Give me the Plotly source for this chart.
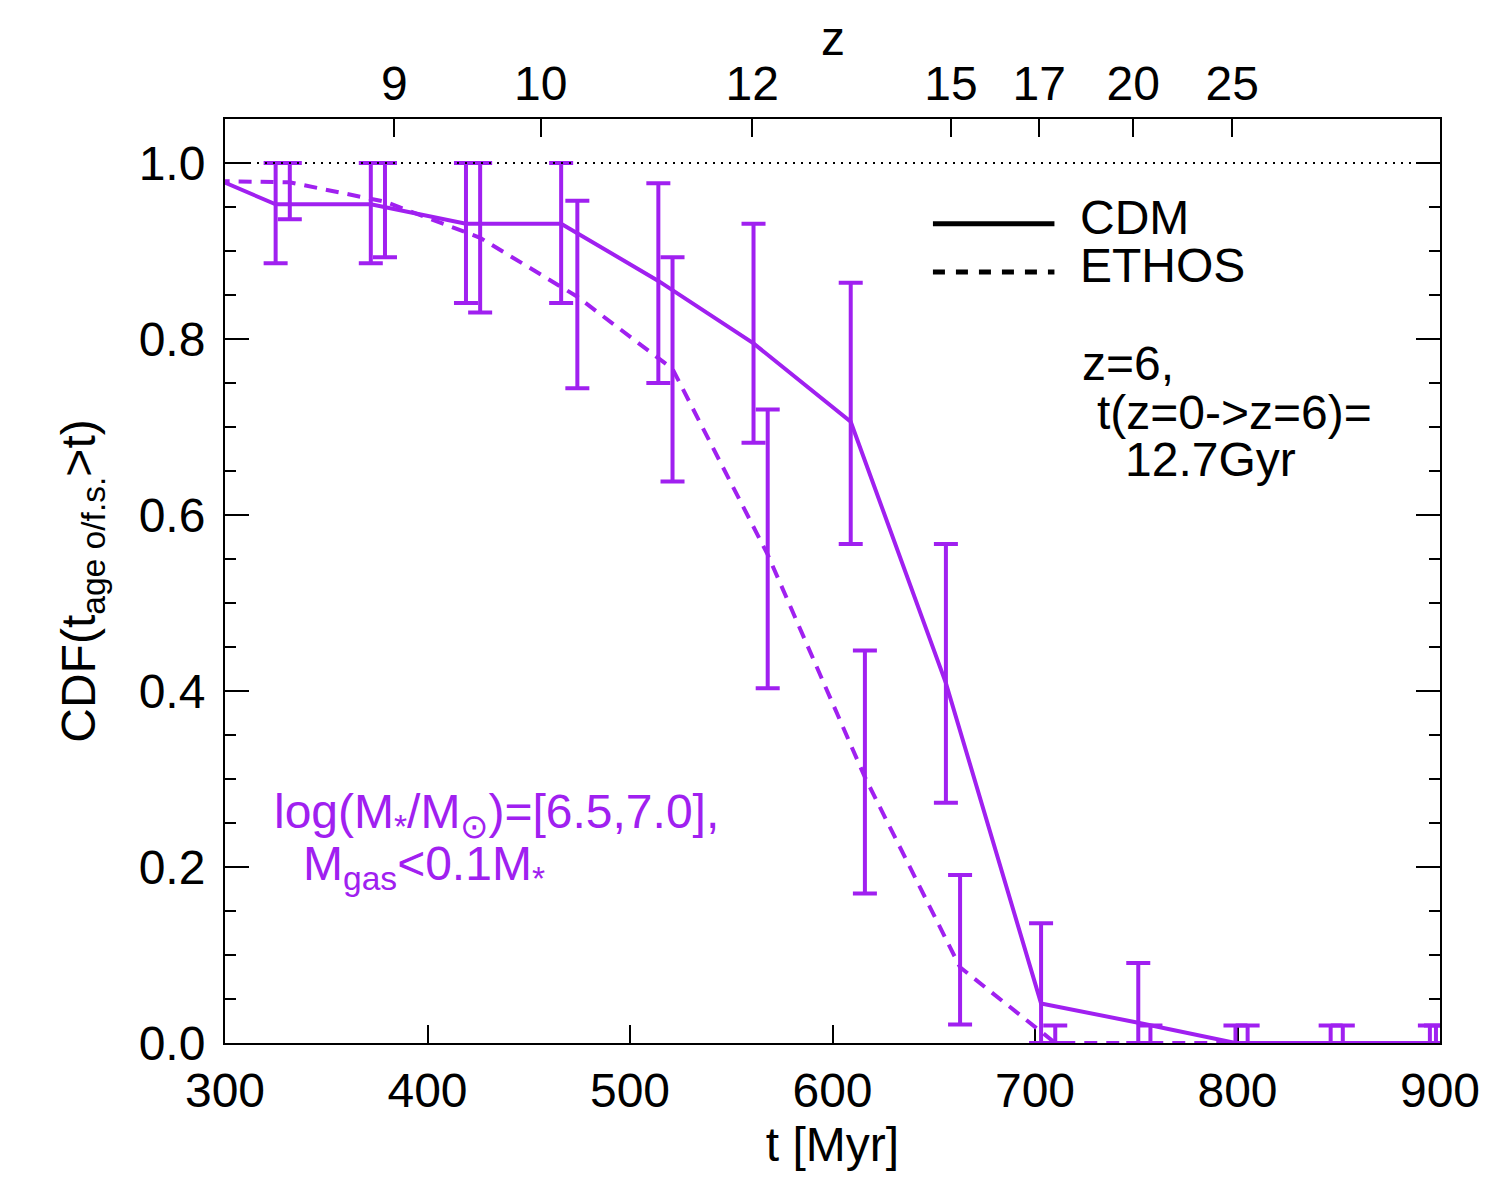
import plotly.graph_objects as go

PURPLE = "#A020F0"
FONT = "Liberation Sans, Arial, Helvetica, sans-serif"

# ---- data ----
# first entry of each series is the bin just left of the plotted range (clipped)
cdm_t = [277.5, 325, 372, 419, 466, 514, 561, 609, 656, 703, 751, 799, 846, 895]
cdm_val = [1.0, 0.953, 0.953, 0.931, 0.931, 0.866, 0.795, 0.706, 0.409, 0.045, 0.023, 0.0, 0.0, 0.0]
cdm_lo = [1.0, 0.886, 0.886, 0.841, 0.841, 0.750, 0.682, 0.567, 0.273, 0.0, 0.0, 0.0, 0.0, 0.0]
cdm_hi = [1.0, 1.0, 1.0, 1.0, 1.0, 0.977, 0.931, 0.864, 0.567, 0.136, 0.091, 0.020, 0.020, 0.020]

ethos_t = [285, 332, 379, 426, 474, 521, 568, 616, 663, 710, 757, 805, 852, 898]
ethos_val = [0.980, 0.978, 0.956, 0.915, 0.848, 0.766, 0.555, 0.302, 0.086, 0.0, 0.0, 0.0, 0.0, 0.0]
ethos_lo = [0.980, 0.936, 0.893, 0.830, 0.744, 0.638, 0.403, 0.170, 0.021, 0.0, 0.0, 0.0, 0.0, 0.0]
ethos_hi = [0.980, 1.0, 1.0, 1.0, 0.957, 0.893, 0.720, 0.446, 0.191, 0.020, 0.020, 0.020, 0.020, 0.020]

# top axis: redshift ticks at time positions
z_tick_t = [383.6, 455.9, 560.4, 658.5, 702.1, 748.5, 797.4]
z_tick_labels = ["9", "10", "12", "15", "17", "20", "25"]

x_ticks = [300, 400, 500, 600, 700, 800, 900]


def err_plus(v, h):
    return [hh - vv for vv, hh in zip(v, h)]


def err_minus(v, l):
    return [vv - ll for vv, ll in zip(v, l)]


fig = go.Figure()

# reference line at CDF = 1
fig.add_trace(go.Scatter(
    x=[x_ticks[0], x_ticks[-1]], y=[1.0, 1.0], xaxis="x2", yaxis="y",
    mode="lines", line=dict(color="black", width=2, dash="2px,6px"),
    hoverinfo="skip", showlegend=False))

fig.add_trace(go.Scatter(
    x=cdm_t, y=cdm_val, mode="lines", name="CDM",
    line=dict(color=PURPLE, width=4),
    error_y=dict(type="data", symmetric=False,
                 array=err_plus(cdm_val, cdm_hi),
                 arrayminus=err_minus(cdm_val, cdm_lo),
                 color=PURPLE, thickness=4, width=12),
    showlegend=False))

fig.add_trace(go.Scatter(
    x=ethos_t, y=ethos_val, mode="lines", name="ETHOS",
    line=dict(color=PURPLE, width=4, dash="13px,9px"),
    error_y=dict(type="data", symmetric=False,
                 array=err_plus(ethos_val, ethos_hi),
                 arrayminus=err_minus(ethos_val, ethos_lo),
                 color=PURPLE, thickness=4, width=12),
    showlegend=False))

# legend lines
fig.add_shape(type="line", xref="x", yref="y", x0=649.6, x1=709.6, y0=0.931, y1=0.931,
              line=dict(color="black", width=5))
fig.add_shape(type="line", xref="x", yref="y", x0=649.6, x1=709.6, y0=0.876, y1=0.876,
              line=dict(color="black", width=5, dash="12px,11px"))

annots = [
    dict(text="CDM", x=721.0, y=0.938, color="black"),
    dict(text="ETHOS", x=721.0, y=0.883, color="black"),
    dict(text="z=6,", x=722.0, y=0.7725, color="black"),
    dict(text="t(z=0-&gt;z=6)=", x=729.6, y=0.717, color="black"),
    dict(text="12.7Gyr", x=743.4, y=0.663, color="black"),
    dict(text="log(M<sub>*</sub>/M<sub>⊙</sub>)=[6.5,7.0],", x=323.0, y=0.259, color=PURPLE),
    dict(text="M<sub>gas</sub>&lt;0.1M<sub>*</sub>", x=337.5, y=0.1998, color=PURPLE),
]
for a in annots:
    fig.add_annotation(text=a["text"], x=a["x"], y=a["y"], xref="x", yref="y",
                       xanchor="left", yanchor="middle", showarrow=False,
                       font=dict(family=FONT, size=48, color=a["color"]))

# top axis title "z"
fig.add_annotation(text="z", x=0.5, y=1.0, xref="paper", yref="paper",
                   xanchor="center", yanchor="bottom", yshift=52, showarrow=False,
                   font=dict(family=FONT, size=48, color="black"))

axis_common = dict(showgrid=False, zeroline=False, linecolor="black", linewidth=2,
                   tickcolor="black", tickwidth=2, ticks="inside",
                   tickfont=dict(family=FONT, size=48, color="black"))

fig.update_layout(
    width=1500, height=1200,
    margin=dict(l=225, r=60, t=119, b=157),
    paper_bgcolor="white", plot_bgcolor="white",
    font=dict(family=FONT, size=48, color="black"),
    showlegend=False, hovermode=False,
    xaxis=dict(range=[300, 900], tickvals=x_ticks, ticklen=18, showline=True,
               mirror=True, layer="below traces", ticklabelstandoff=4,
               title=dict(text="t [Myr]", font=dict(family=FONT, size=48), standoff=12),
               **axis_common),
    xaxis2=dict(range=[300, 900], overlaying="x", side="top", anchor="y",
                tickvals=z_tick_t, ticktext=z_tick_labels, ticklen=18, showline=False,
                ticklabelstandoff=8,
                **axis_common),
    yaxis=dict(range=[0, 1.05], tick0=0, dtick=0.2, tickformat=".1f", ticklen=24,
               showline=True, mirror="ticks", layer="below traces", ticklabelstandoff=8,
               minor=dict(ticks="inside", ticklen=11, tickwidth=2, tickcolor="black",
                          dtick=0.05, tick0=0, showgrid=False),
               title=dict(text="CDF(t<sub>age o/f.s.</sub>&gt;t)",
                          font=dict(family=FONT, size=48), standoff=28),
               **axis_common),
)

fig.write_html("out.html")
